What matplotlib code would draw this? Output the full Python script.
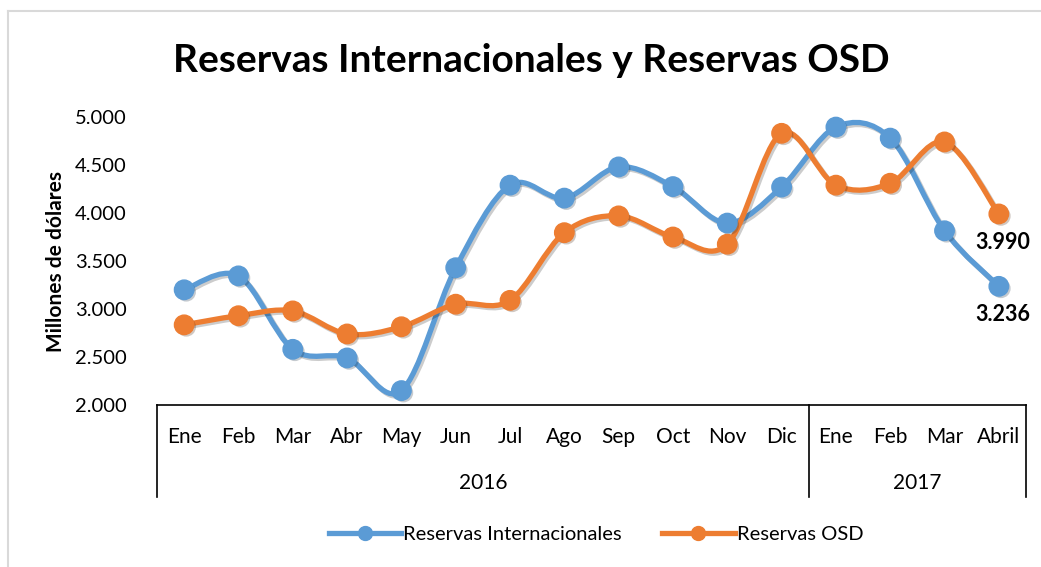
import numpy as np
import matplotlib.pyplot as plt
from matplotlib.path import Path
from matplotlib.patches import PathPatch
from matplotlib.lines import Line2D
from matplotlib.transforms import blended_transform_factory
import matplotlib.patheffects as pe

plt.rcParams['font.family'] = ['Lato', 'DejaVu Sans']

months = ['Ene', 'Feb', 'Mar', 'Abr', 'May', 'Jun', 'Jul', 'Ago', 'Sep', 'Oct', 'Nov', 'Dic',
          'Ene', 'Feb', 'Mar', 'Abril']
years = ['2016', '2017']
year_counts = [12, 4]

reservas_int = [3200, 3345, 2580, 2490, 2150, 3430, 4290, 4155, 4480, 4275, 3895, 4270,
                4895, 4780, 3815, 3236]
reservas_osd = [2835, 2930, 2980, 2740, 2815, 3050, 3090, 3795, 3970, 3750, 3675, 4830,
                4290, 4310, 4740, 3990]

BLUE = '#5B9BD5'
ORANGE = '#ED7D31'


def smooth_path(xs, ys):
    # Excel-like smoothed line: cubic Bezier with control points from neighbours
    pts = np.column_stack([xs, ys]).astype(float)
    n = len(pts)
    verts = [pts[0]]
    codes = [Path.MOVETO]
    for i in range(n - 1):
        p0 = pts[i - 1] if i > 0 else pts[i]
        p1 = pts[i]
        p2 = pts[i + 1]
        p3 = pts[i + 2] if i + 2 < n else pts[i + 1]
        c1 = p1 + (p2 - p0) / 6.0
        c2 = p2 - (p3 - p1) / 6.0
        verts += [c1, c2, p2]
        codes += [Path.CURVE4] * 3
    return Path(verts, codes)


def fmt(v):
    return f"{v:,}".replace(',', '.')


def main():
    fig = plt.figure(figsize=(10.41, 5.67), dpi=100)
    ax = fig.add_axes([157 / 1041, 1 - 405 / 567, (1026 - 157) / 1041, 288 / 567])

    x = np.arange(len(months))

    for vals, color in [(reservas_int, BLUE), (reservas_osd, ORANGE)]:
        patch = PathPatch(smooth_path(x, vals), facecolor='none', edgecolor=color,
                          lw=3.8, capstyle='round', joinstyle='round', zorder=2)
        patch.set_path_effects([pe.SimpleLineShadow(offset=(1.5, -1.5), alpha=0.2, shadow_color='black'),
                                pe.Normal()])
        ax.add_patch(patch)
        mk = ax.plot(x, vals, 'o', color=color, markersize=14, zorder=3, clip_on=False)[0]
        mk.set_path_effects([pe.SimplePatchShadow(offset=(1.5, -1.5), alpha=0.25), pe.Normal()])

    for vals in (reservas_osd, reservas_int):
        ax.annotate(fmt(vals[-1]), (x[-1], vals[-1]),
                    xytext=(3, -13), textcoords='offset points', ha='center', va='top',
                    fontsize=15.5, fontweight='bold')

    ax.set_xlim(-0.5, len(months) - 0.5)
    ax.set_ylim(2000, 5000)
    ax.set_yticks(np.arange(2000, 5001, 500))
    ax.set_yticklabels([fmt(v) for v in range(2000, 5001, 500)], fontsize=14.5)
    ax.tick_params(axis='y', length=0, pad=22)
    ax.set_xticks([])
    for s in ['left', 'right', 'top']:
        ax.spines[s].set_visible(False)
    ax.spines['bottom'].set_linewidth(1.2)
    ax.set_ylabel('Millones de dólares', fontsize=15, fontweight='bold', labelpad=6)

    # category labels (months and years)
    trans = blended_transform_factory(ax.transData, ax.transAxes)
    for i, m in enumerate(months):
        ax.text(i, -32 / 288, m, transform=trans, ha='center', va='center', fontsize=15)
    start = 0
    seps = [-0.5]
    for yr, cnt in zip(years, year_counts):
        ax.text(start + (cnt - 1) / 2, -78 / 288, yr, transform=trans, ha='center', va='center',
                fontsize=15)
        start += cnt
        seps.append(start - 0.5)
    for sx in seps:
        ax.plot([sx, sx], [0, -92 / 288], color='black', lw=1.2, transform=trans, clip_on=False)

    fig.text(531 / 1041, 1 - 61 / 567, 'Reservas Internacionales y Reservas OSD',
             ha='center', va='center', fontsize=28, fontweight='bold')

    handles = [Line2D([], [], color=BLUE, lw=3.8, marker='o', markersize=10),
               Line2D([], [], color=ORANGE, lw=3.8, marker='o', markersize=10)]
    fig.legend(handles, ['Reservas Internacionales', 'Reservas OSD'], loc='center',
               bbox_to_anchor=(596 / 1041, 1 - 534 / 567), ncol=2, frameon=False,
               fontsize=14.5, handlelength=3.6, handletextpad=0.1, columnspacing=2.0)

    # outer chart border (left and top)
    fig.add_artist(Line2D([8 / 1041, 8 / 1041], [0, 1 - 11 / 567], color='#D9D9D9', lw=1.5))
    fig.add_artist(Line2D([8 / 1041, 1], [1 - 11 / 567, 1 - 11 / 567], color='#D9D9D9', lw=1.5))

    fig.savefig('out.png', dpi=100)


if __name__ == "__main__":
    main()
